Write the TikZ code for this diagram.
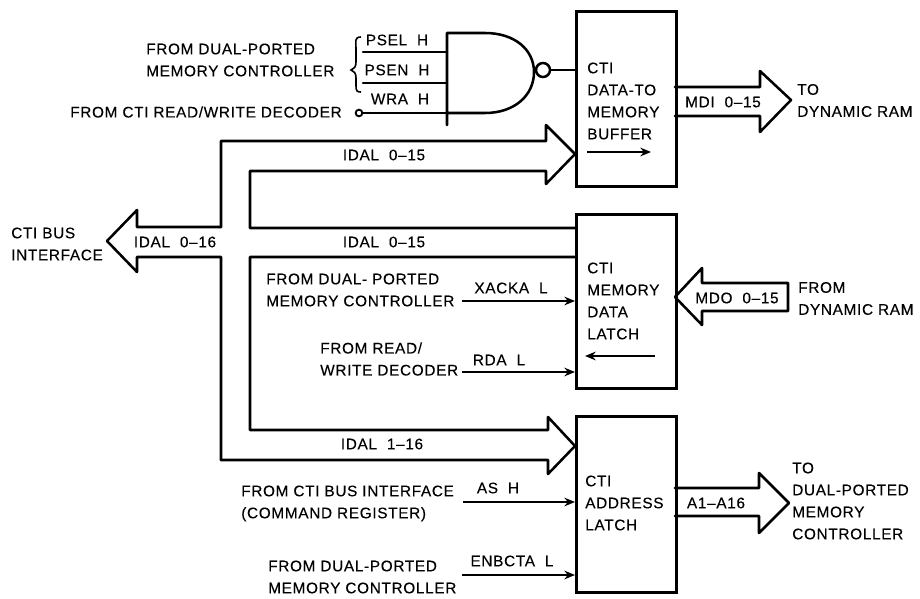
\documentclass[tikz,border=0pt]{standalone}
\usepackage{fontspec}
\setmainfont[LetterSpace=4.5,FakeBold=0.25]{Liberation Sans}
\usetikzlibrary{arrows.meta}
\tikzset{
  wire/.style={line width=1.9pt,line cap=round,line join=round},
  thin wire/.style={line width=1.6pt,-{Stealth[length=8pt,width=6.5pt]}},
  blockbox/.style={draw,line width=1.9pt,anchor=north west,inner sep=0pt,minimum width=75pt},
  lbl/.style={font=\fontsize{11.5}{16.5}\selectfont,inner sep=0pt,align=left,anchor=west},
  cen/.style={font=\fontsize{11.5}{16.5}\selectfont,inner sep=0pt,align=center,anchor=center}
}
\begin{document}
\begin{tikzpicture}[x=0.75pt,y=-0.75pt]
\useasboundingbox (0,0) rectangle (920,599);
% blocks
\node[blockbox,minimum height=131.25pt] (buf) at (575,10) {};
\node[blockbox,minimum height=130.5pt] (dat) at (575,213) {};
\node[blockbox,minimum height=132pt] (adr) at (575,415) {};
% block texts
\node[lbl] (t1) at (587,101) {CTI\\DATA-TO\\MEMORY\\BUFFER};
\node[lbl] (t2) at (587,301) {CTI\\MEMORY\\DATA\\LATCH};
\node[lbl] (t3) at (585,503) {CTI\\ADDRESS\\LATCH};
\coordinate (ba) at (587,152); \coordinate (bb) at (651,152);
\draw[thin wire] (ba) -- (bb);
\coordinate (da) at (655,356); \coordinate (db) at (585,356);
\draw[thin wire] (da) -- (db);
% NAND
\coordinate (g1) at (447,33); \coordinate (g2) at (447,113); \coordinate (g3) at (447,125);
\draw[wire] (g3) -- (g1) -- (485,33) .. controls (515,33) and (534,50) .. (534,72)
   .. controls (534,95) and (515,113) .. (485,113) -- (g2);
\node[circle,draw,line width=1.9pt,minimum size=10.5pt,inner sep=0pt] (bub) at (543,70) {};
\draw[line width=1.5pt] (bub.east) -- (bub.east -| buf.west);
\coordinate (i1) at (363,52); \coordinate (i2) at (363,83);
\draw[wire] (i1) -- (i1 -| g1);
\draw[wire] (i2) -- (i2 -| g1);
\node[circle,draw,line width=1.4pt,minimum size=5pt,inner sep=0pt] (wra) at (359,113) {};
\draw[wire] (wra.east) -- (wra.east -| g1);
\draw[line width=1.2pt] (361,37) .. controls (354,37) and (356,42) .. (356,48) -- (356,62)
   .. controls (356,67) and (354,69) .. (351,70) .. controls (354,71) and (356,73) .. (356,78) -- (356,86)
   .. controls (356,91) and (357,92) .. (361,92);
\node[cen] (psel) at (397,40) {PSEL\ \ H};
\node[cen] (psen) at (397,70) {PSEN\ \ H};
\node[cen] (wrah) at (400,99) {WRA\ \ H};
\node[lbl] (f1) at (146,60) {FROM DUAL-PORTED\\MEMORY CONTROLLER};
\node[lbl] (f2) at (70,112) {FROM CTI READ/WRITE DECODER};
% bus to left
\coordinate (tip) at (107,241);
\coordinate (h1) at (137,210); \coordinate (h2) at (137,272);
\coordinate (c1) at (221,141); \coordinate (c2) at (250,171);
\coordinate (c3) at (250,228); \coordinate (c4) at (250,257);
\coordinate (c5) at (250,430); \coordinate (c6) at (221,460);
\draw[wire] (c1 |- 0,227) -- (137,227) -- (h1) -- (tip) -- (h2) -- (137,257) -- (221,257) -- (c6);
% bus to data buffer
\coordinate (p1) at (546,125); \coordinate (p2) at (546,184); \coordinate (ptip) at (575,154);
\draw[wire] (221,227) -- (c1) -- (546,141) -- (p1) -- (ptip) -- (p2) -- (546,171) -- (c2) -- (c3) -- (c3 -| dat.west);
% bus from latch
\draw[wire] (c4 -| dat.west) -- (c4) -- (c5) -- (548,430) -- (548,417) -- (575,446) -- (548,474) -- (548,460) -- (c6);
\node[cen] (n1) at (384,155) {IDAL\ \ 0–15};
\node[cen] (n2) at (175,242) {IDAL\ \ 0–16};
\node[cen] (n3) at (384,242) {IDAL\ \ 0–15};
\node[cen] (n4) at (382,444) {IDAL\ \ 1–16};
\node[lbl] (n5) at (11,244) {CTI BUS\\INTERFACE};
% MDI
\draw[wire] (675,87) -- (760,87) -- (760,71) -- (791,100) -- (760,132) -- (760,116) -- (675,116);
\node[cen] (mdi) at (723,102) {MDI\ \ 0–15};
\node[lbl] (ram1) at (797,100.5) {TO\\DYNAMIC RAM};
% MDO
\draw[wire] (702,283) -- (702,268) -- (675,297) -- (702,325) -- (702,311) -- (788,311) -- (788,283) -- cycle;
\node[cen] (mdo) at (737,298) {MDO\ \ 0–15};
\node[lbl] (ram2) at (798,298.5) {FROM\\DYNAMIC RAM};
% A1-A16
\draw[wire] (675,488) -- (759,488) -- (759,473) -- (789,503) -- (759,533) -- (759,516) -- (675,516);
\node[cen] (a116) at (716,503) {A1–A16};
\node[lbl] (to3) at (792,501) {TO\\DUAL-PORTED\\MEMORY\\CONTROLLER};
% control signals
\coordinate (x1) at (462,301); \coordinate (r1) at (462,372);
\coordinate (s1) at (463,502); \coordinate (e1) at (462,575);
\draw[thin wire] (x1) -- (x1 -| dat.west);
\draw[thin wire] (r1) -- (r1 -| dat.west);
\draw[thin wire] (s1) -- (s1 -| adr.west);
\draw[thin wire] (e1) -- (e1 -| adr.west);
\node[lbl] (q1) at (266,290) {FROM DUAL- PORTED\\MEMORY CONTROLLER};
\node[lbl] (q2) at (320,359) {FROM READ/\\WRITE DECODER};
\node[lbl] (q3) at (241,503.5) {FROM CTI BUS INTERFACE\\(COMMAND REGISTER)};
\node[lbl] (q4) at (268,577) {FROM DUAL-PORTED\\MEMORY CONTROLLER};
\node[cen] (xa) at (511,288) {XACKA\ \ L};
\node[cen] (rd) at (499,360) {RDA\ \ L};
\node[cen] (as) at (498,488) {AS\ \ H};
\node[cen] (en) at (512,561) {ENBCTA\ \ L};
\end{tikzpicture}
\end{document}
